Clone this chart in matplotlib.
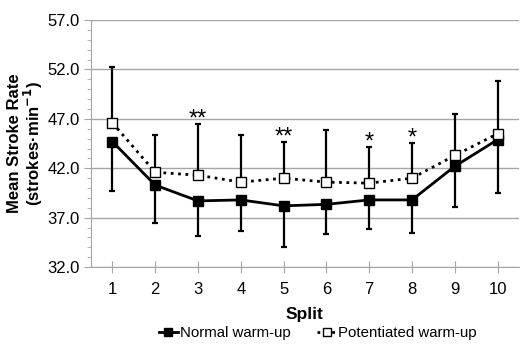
import matplotlib
matplotlib.use("Agg")
import matplotlib.pyplot as plt
from matplotlib.ticker import MultipleLocator

plt.rcParams['font.family'] = ['Liberation Sans', 'DejaVu Sans']

splits = [1, 2, 3, 4, 5, 6, 7, 8, 9, 10]
normal = [44.7, 40.3, 38.7, 38.8, 38.2, 38.35, 38.8, 38.8, 42.2, 44.9]
normal_sd = [5.0, 3.8, 3.6, 3.1, 4.15, 2.95, 2.95, 3.3, 4.1, 5.35]
potent = [46.6, 41.6, 41.3, 40.6, 41.0, 40.6, 40.5, 41.0, 43.3, 45.5]
potent_sd = [5.7, 3.8, 5.2, 4.8, 3.7, 5.3, 3.7, 3.6, 4.2, 5.3]
stars = {3: '**', 5: '**', 7: '*', 8: '*'}

fig = plt.figure(figsize=(5.2, 3.46), dpi=100)
ax = fig.add_axes([0.175, 0.228, 0.823, 0.714])

grey = '#a6a6a6'
ax.grid(True, axis='y', color=grey, lw=1)
ax.set_axisbelow(True)

# error bars: normal downwards, potentiated upwards
ax.errorbar(splits, normal, yerr=[normal_sd, [0] * 10], fmt='none',
            ecolor='black', elinewidth=1.6, capsize=2, capthick=1.6, zorder=2)
ax.errorbar(splits, potent, yerr=[[0] * 10, potent_sd], fmt='none',
            ecolor='black', elinewidth=1.6, capsize=2, capthick=1.6, zorder=2)

ax.plot(splits, normal, '-s', color='black', lw=2, ms=7, mfc='black',
        label='Normal warm-up', zorder=3)
ax.plot(splits, potent, ':s', color='black', lw=2, ms=7, mfc='white',
        mec='black', mew=1, label='Potentiated warm-up', zorder=3)

for x, s in stars.items():
    ax.text(x, potent[x - 1] + potent_sd[x - 1] - 0.7, s, ha='center',
            va='bottom', fontsize=17)

ax.set_xlim(0.5, 10.5)
ax.set_ylim(32, 57)
ax.set_xticks(splits)
ax.set_yticks([32, 37, 42, 47, 52, 57])
ax.set_yticklabels(['32.0', '37.0', '42.0', '47.0', '52.0', '57.0'])
ax.yaxis.set_minor_locator(MultipleLocator(1))
ax.tick_params(axis='both', labelsize=12, colors='black')
ax.tick_params(axis='y', which='both', direction='out', color=grey, length=5, pad=3)
ax.tick_params(axis='y', which='minor', length=3)
ax.tick_params(axis='x', direction='inout', color=grey, length=8, pad=7)

for side in ['top', 'right']:
    ax.spines[side].set_visible(False)
for side in ['left', 'bottom']:
    ax.spines[side].set_color(grey)

ax.set_xlabel('Split', fontsize=12.5, fontweight='bold', labelpad=7)
ax.set_ylabel('Mean Stroke Rate\n(strokes·min$^{\\mathbf{-1}}$)', fontsize=12,
              fontweight='bold', linespacing=1.0)
ax.yaxis.set_label_coords(-0.107, 0.5)

ax.legend(loc='center', bbox_to_anchor=(0.53, -0.267), ncol=2, frameon=False,
          fontsize=10.8, handlelength=1.3, handletextpad=0.1, columnspacing=1.8,
          markerscale=0.75)

fig.savefig('out.png', dpi=100)
